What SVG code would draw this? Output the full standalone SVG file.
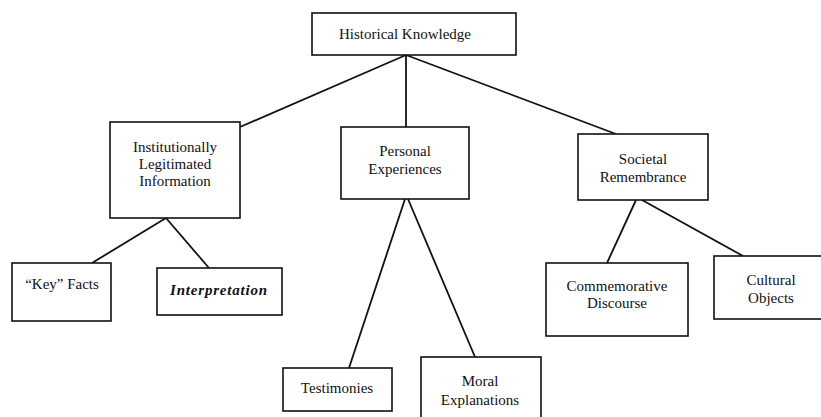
<svg xmlns="http://www.w3.org/2000/svg" width="821" height="417" viewBox="0 0 821 417">
<style>
.box{fill:#fff;stroke:#111;stroke-width:1.6}
.ln{stroke:#111;stroke-width:1.8;fill:none}
text{font-family:"Liberation Serif","Times New Roman",serif;font-size:15px;fill:#111;text-anchor:middle}
.it{font-weight:bold;font-style:italic;letter-spacing:0.8px}
</style>
<rect width="821" height="417" fill="#fff"/>
<g id="connectors">
<line class="ln" x1="406" y1="55" x2="240" y2="127"/>
<line class="ln" x1="406" y1="55" x2="406" y2="127"/>
<line class="ln" x1="406" y1="55" x2="616" y2="134"/>
<line class="ln" x1="166" y1="218" x2="92" y2="263"/>
<line class="ln" x1="166" y1="218" x2="209" y2="268"/>
<line class="ln" x1="405" y1="199" x2="349" y2="368"/>
<line class="ln" x1="408" y1="199" x2="475" y2="357"/>
<line class="ln" x1="636" y1="200" x2="607" y2="263"/>
<line class="ln" x1="642" y1="200" x2="743" y2="256"/>
</g>
<g id="historical">
<rect class="box" x="312" y="13" width="204" height="42"/>
<text x="405" y="39">Historical Knowledge</text>
</g>
<g id="institutional">
<rect class="box" x="110" y="122" width="130" height="96"/>
<text x="175" y="152">Institutionally</text>
<text x="175" y="169">Legitimated</text>
<text x="175" y="186">Information</text>
</g>
<g id="personal">
<rect class="box" x="341" y="127" width="128" height="72"/>
<text x="405" y="156">Personal</text>
<text x="405" y="174">Experiences</text>
</g>
<g id="societal">
<rect class="box" x="578" y="134" width="130" height="66"/>
<text x="643" y="164">Societal</text>
<text x="643" y="182">Remembrance</text>
</g>
<g id="keyfacts">
<rect class="box" x="12" y="263" width="99" height="58"/>
<text x="62" y="289">“Key” Facts</text>
</g>
<g id="interpretation">
<rect class="box" x="157" y="268" width="125" height="47"/>
<text class="it" x="219" y="295">Interpretation</text>
</g>
<g id="testimonies">
<rect class="box" x="283" y="368" width="109" height="43"/>
<text x="337" y="393">Testimonies</text>
</g>
<g id="moral">
<rect class="box" x="421" y="357" width="120" height="64"/>
<text x="480" y="386">Moral</text>
<text x="480" y="405">Explanations</text>
</g>
<g id="commemorative">
<rect class="box" x="546" y="263" width="142" height="73"/>
<text x="617" y="291">Commemorative</text>
<text x="617" y="308">Discourse</text>
</g>
<g id="cultural">
<rect class="box" x="714" y="256" width="110" height="63"/>
<text x="771" y="285">Cultural</text>
<text x="771" y="303">Objects</text>
</g>
</svg>
